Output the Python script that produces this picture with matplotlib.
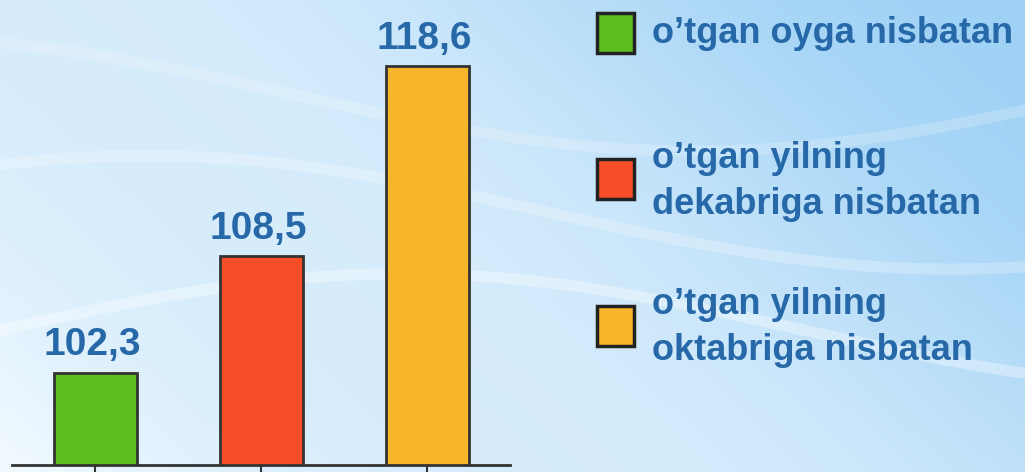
import matplotlib.pyplot as plt
import numpy as np
from matplotlib.patches import Rectangle

categories = ["o’tgan oyga nisbatan",
              "o’tgan yilning\ndekabriga nisbatan",
              "o’tgan yilning\noktabriga nisbatan"]
values = [102.3, 108.5, 118.6]
labels = ["102,3", "108,5", "118,6"]
colors = ["#5bbd1e", "#f64f27", "#f7b52b"]
text_color = "#2668a8"

plt.rcParams["font.family"] = ["Liberation Sans", "DejaVu Sans"]

fig = plt.figure(figsize=(10.25, 4.72), dpi=100)

# soft blue background gradient
bg = fig.add_axes([0, 0, 1, 1], zorder=0)
xx, yy = np.meshgrid(np.linspace(0, 1, 300), np.linspace(0, 1, 150))
t = np.clip(0.6 * xx + 0.3 * yy + 0.08 * np.sin(6 * xx + 3 * yy), 0, 1)
c0 = np.array([0.95, 0.98, 1.0])
c1 = np.array([0.60, 0.81, 0.96])
img = c0 + (c1 - c0) * t[..., None]
bg.imshow(img, extent=[0, 1, 0, 1], aspect="auto", origin="lower")
for k, a in enumerate([0.35, 0.25, 0.2]):
    xs = np.linspace(0, 1, 200)
    bg.plot(xs, 0.3 + 0.25 * k + 0.12 * np.sin(4 * xs + k), color="white", lw=8, alpha=a)
bg.set_xlim(0, 1)
bg.set_ylim(0, 1)
bg.axis("off")

ax = fig.add_axes([12 / 1025, 7 / 472, 498 / 1025, 458 / 472], zorder=1)
ax.patch.set_alpha(0)
x = np.arange(len(values))
ax.bar(x, values, width=0.5, color=colors, edgecolor="#333333", linewidth=2, zorder=2)
ax.set_xlim(-0.5, 2.5)
ax.set_ylim(97.4, 97.4 + 458 / 18.8)
for xi, v, lab in zip(x, values, labels):
    ax.annotate(lab, (xi, v), xytext=(-2, 7), textcoords="offset points",
                ha="center", va="bottom", fontsize=28, fontweight="bold", color=text_color)
for s in ["top", "right", "left"]:
    ax.spines[s].set_visible(False)
ax.spines["bottom"].set_color("#333333")
ax.spines["bottom"].set_linewidth(2)
ax.set_xticks(x)
ax.set_xticklabels([])
ax.tick_params(axis="x", length=8, width=1.5, color="#333333", direction="out")
ax.set_yticks([])

# legend drawn manually (pixel positions from the top edge)
box_top = [13, 159, 306]
first_base = [43, 168, 314]
for cat, col, top, base in zip(categories, colors, box_top, first_base):
    fig.patches.append(Rectangle((597 / 1025, 1 - (top + 40) / 472), 37 / 1025, 40 / 472,
                                 transform=fig.transFigure, facecolor=col,
                                 edgecolor="#222222", linewidth=2.5, zorder=3))
    for i, line in enumerate(cat.split("\n")):
        fig.text(652 / 1025, 1 - (base + 46 * i) / 472, line, ha="left",
                 va="baseline", fontsize=26, fontweight="bold", color=text_color, zorder=3)

fig.savefig("out.png", dpi=100)
